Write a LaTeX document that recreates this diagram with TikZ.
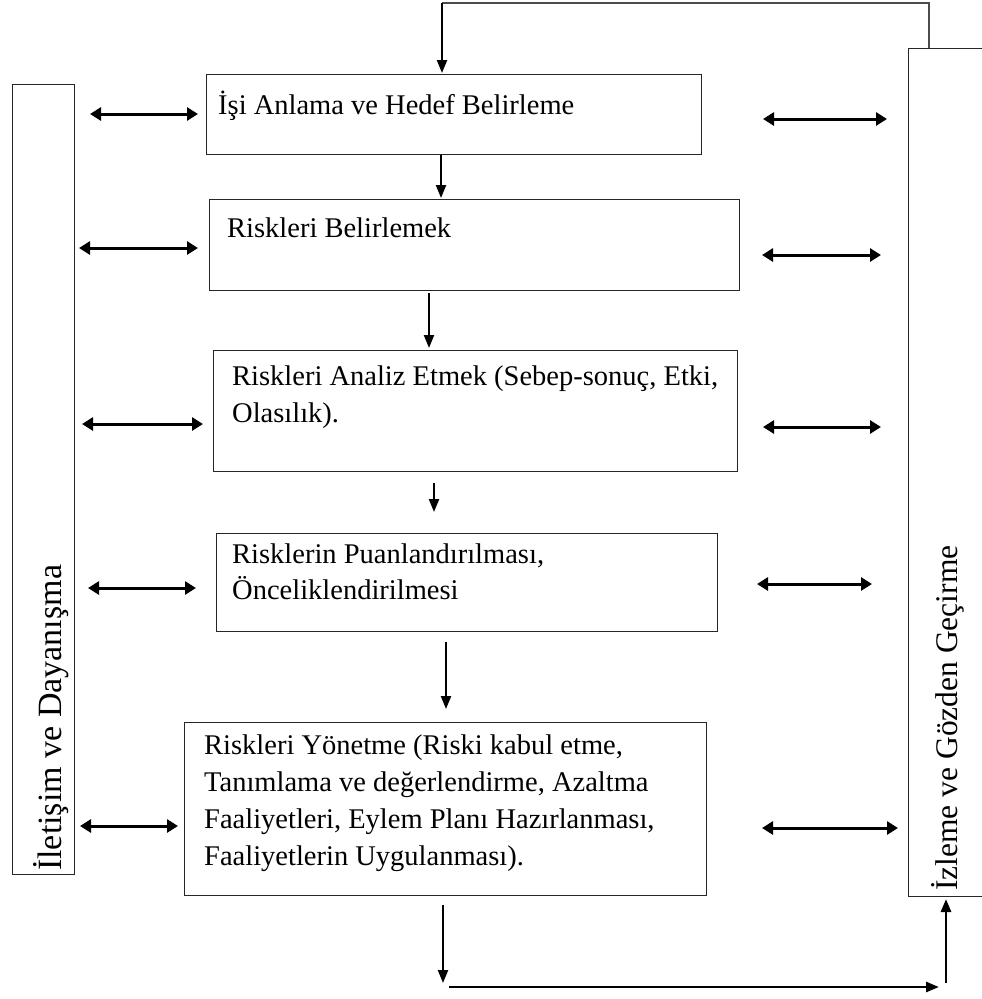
\documentclass[tikz,border=0pt]{standalone}
\usepackage{fontspec}
\setmainfont{Liberation Serif}
\usetikzlibrary{arrows.meta}
\begin{document}
\begin{tikzpicture}[x=1pt,y=-1pt,
  box/.style={draw=black!85, line width=1.2pt, inner sep=0pt, anchor=north west},
  lbl/.style={anchor=base west, inner sep=0pt, font=\fontsize{28.5}{34}\selectfont},
  side/.style={rotate=90, anchor=base west, inner sep=0pt},
  flow/.style={line width=2.2pt, -{Triangle[length=13pt,width=10pt]}},
  link/.style={line width=3pt, {Triangle[length=11pt,width=13pt]}-{Triangle[length=11pt,width=13pt]}},
  fb/.style={line width=1.3pt, black!70},
]
\useasboundingbox (0,0) rectangle (982,999);

% side boxes
\node[box, minimum width=62, minimum height=790] (lbox) at (12,84) {};
\node[box, minimum width=120, minimum height=848] (rbox) at (908,48) {};
\node[side, font=\fontsize{34}{34}\selectfont] (ltxt) at (61,871) {İletişim ve Dayanışma};
\node[side, font=\fontsize{31.5}{31.5}\selectfont] (rtxt) at (957,891) {İzleme ve Gözden Geçirme};

% process boxes
\node[box, minimum width=495, minimum height=80]  (b1) at (206,74) {};
\node[box, minimum width=530, minimum height=91]  (b2) at (209,199) {};
\node[box, minimum width=524, minimum height=121] (b3) at (213,350) {};
\node[box, minimum width=501, minimum height=98]  (b4) at (216,533) {};
\node[box, minimum width=522, minimum height=173] (b5) at (184,722) {};

% texts
\node[lbl] (t1) at (218,114) {İşi Anlama ve Hedef Belirleme};
\node[lbl] (t2) at (227,237) {Riskleri Belirlemek};
\node[lbl] (t3a) at (232,385) {Riskleri Analiz Etmek (Sebep-sonuç, Etki,};
\node[lbl] (t3b) at (232,422) {Olasılık).};
\node[lbl] (t4a) at (232,563) {Risklerin Puanlandırılması,};
\node[lbl] (t4b) at (232,599) {Önceliklendirilmesi};
\node[lbl] (t5a) at (204,754) {Riskleri Yönetme (Riski kabul etme,};
\node[lbl] (t5b) at (204,791) {Tanımlama ve değerlendirme, Azaltma};
\node[lbl] (t5c) at (204,828) {Faaliyetleri, Eylem Planı Hazırlanması,};
\node[lbl] (t5d) at (204,865) {Faaliyetlerin Uygulanması).};

% feedback loop top
\coordinate (fbR) at (929,48);
\coordinate (fbUp) at (929,3);
\coordinate (fbL) at (442,3);
\coordinate (fbIn) at (442,73);
\draw[fb] (fbR) -- (fbUp) -- (fbL);
\draw[flow] (fbL) -- (fbIn);

% vertical flow arrows
\coordinate (a1s) at (441,155); \coordinate (a1e) at (441,198);
\coordinate (a2s) at (429,293); \coordinate (a2e) at (429,348);
\coordinate (a3s) at (434,483); \coordinate (a3e) at (434,512);
\coordinate (a4s) at (446,642); \coordinate (a4e) at (446,709);
\draw[flow] (a1s) -- (a1e);
\draw[flow] (a2s) -- (a2e);
\draw[flow] (a3s) -- (a3e);
\draw[flow] (a4s) -- (a4e);

% bottom loop
\coordinate (d1) at (443,905); \coordinate (d2) at (443,983);
\coordinate (h1) at (449,987); \coordinate (h2) at (939,987);
\coordinate (u1) at (946,983); \coordinate (u2) at (946,899);
\draw[flow] (d1) -- (d2);
\draw[flow, line width=2.8pt] (h1) -- (h2);
\draw[flow, line width=2.8pt] (u1) -- (u2);

% left double arrows
\coordinate (l1a) at (90,114);  \coordinate (l1b) at (198,114);
\coordinate (l2a) at (79,248);  \coordinate (l2b) at (198,248);
\coordinate (l3a) at (82,424);  \coordinate (l3b) at (203,424);
\coordinate (l4a) at (88,588);  \coordinate (l4b) at (196,588);
\coordinate (l5a) at (80,826);  \coordinate (l5b) at (178,826);
\draw[link] (l1a) -- (l1b);
\draw[link] (l2a) -- (l2b);
\draw[link] (l3a) -- (l3b);
\draw[link] (l4a) -- (l4b);
\draw[link] (l5a) -- (l5b);

% right double arrows
\coordinate (r1a) at (763,119); \coordinate (r1b) at (887,119);
\coordinate (r2a) at (762,255); \coordinate (r2b) at (881,255);
\coordinate (r3a) at (763,427); \coordinate (r3b) at (881,427);
\coordinate (r4a) at (757,584); \coordinate (r4b) at (872,584);
\coordinate (r5a) at (762,828); \coordinate (r5b) at (898,828);
\draw[link] (r1a) -- (r1b);
\draw[link] (r2a) -- (r2b);
\draw[link] (r3a) -- (r3b);
\draw[link] (r4a) -- (r4b);
\draw[link] (r5a) -- (r5b);
\end{tikzpicture}
\end{document}
